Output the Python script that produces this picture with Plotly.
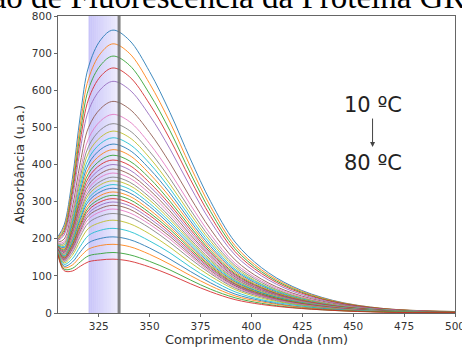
import plotly.graph_objects as go

wavelengths = [305, 308, 312, 316, 320, 326, 332, 340, 350, 360, 370, 380, 392, 405, 420, 440, 465, 500]

spectra = [
    [206, 237, 360, 533, 663, 736, 762, 735, 650, 540, 415, 300, 191, 122, 72, 34, 12, 4],
    [203, 230, 345, 509, 631, 700, 725, 700, 618, 514, 395, 286, 181, 116, 69, 33, 12, 4],
    [200, 223, 332, 487, 603, 668, 692, 668, 590, 491, 377, 273, 173, 111, 66, 31, 11, 3],
    [198, 217, 319, 466, 576, 638, 660, 637, 563, 468, 360, 260, 165, 106, 63, 30, 11, 3],
    [195, 210, 305, 442, 545, 603, 624, 602, 532, 442, 340, 246, 156, 100, 59, 28, 10, 3],
    [191, 199, 283, 406, 500, 551, 570, 550, 486, 404, 311, 225, 143, 91, 54, 26, 9, 3],
    [188, 192, 269, 383, 470, 518, 535, 516, 456, 379, 292, 211, 134, 86, 51, 24, 9, 3],
    [186, 187, 259, 367, 449, 494, 510, 492, 435, 362, 278, 201, 128, 82, 48, 23, 8, 3],
    [184, 183, 251, 353, 432, 474, 490, 473, 418, 347, 267, 193, 123, 78, 47, 22, 8, 2],
    [183, 179, 244, 342, 416, 457, 472, 455, 403, 335, 257, 186, 118, 76, 45, 21, 8, 2],
    [181, 176, 237, 330, 402, 441, 455, 439, 388, 323, 248, 179, 114, 73, 43, 20, 7, 2],
    [180, 173, 231, 320, 389, 426, 440, 425, 375, 312, 240, 173, 110, 70, 42, 20, 7, 2],
    [179, 170, 225, 311, 376, 412, 425, 410, 363, 301, 232, 167, 106, 68, 40, 19, 7, 2],
    [178, 167, 220, 302, 365, 400, 412, 398, 351, 292, 225, 162, 103, 66, 39, 19, 7, 2],
    [177, 165, 215, 294, 355, 388, 400, 386, 341, 284, 218, 158, 100, 64, 38, 18, 6, 2],
    [176, 163, 210, 286, 345, 376, 388, 374, 331, 275, 211, 153, 97, 62, 37, 17, 6, 2],
    [175, 160, 206, 279, 335, 366, 377, 364, 322, 267, 205, 149, 94, 60, 36, 17, 6, 2],
    [174, 158, 201, 272, 326, 355, 366, 353, 312, 259, 199, 144, 92, 59, 35, 16, 6, 2],
    [173, 156, 197, 265, 318, 346, 356, 344, 304, 252, 194, 140, 89, 57, 34, 16, 6, 2],
    [173, 154, 193, 258, 309, 336, 346, 334, 295, 245, 189, 136, 87, 55, 33, 16, 6, 2],
    [172, 152, 189, 252, 301, 327, 336, 324, 287, 238, 183, 132, 84, 54, 32, 15, 5, 2],
    [171, 150, 185, 245, 292, 317, 326, 315, 278, 231, 178, 128, 82, 52, 31, 15, 5, 2],
    [170, 148, 182, 239, 284, 308, 317, 306, 270, 225, 173, 125, 79, 51, 30, 14, 5, 2],
    [170, 147, 178, 233, 277, 300, 308, 297, 263, 218, 168, 121, 77, 49, 29, 14, 5, 2],
    [169, 145, 175, 227, 269, 291, 299, 289, 255, 212, 163, 118, 75, 48, 28, 13, 5, 1],
    [168, 143, 171, 221, 262, 282, 290, 280, 247, 206, 158, 114, 73, 46, 28, 13, 5, 1],
    [167, 141, 167, 215, 253, 273, 280, 270, 239, 199, 153, 110, 70, 45, 27, 13, 4, 1],
    [166, 139, 162, 207, 243, 261, 268, 259, 229, 190, 146, 106, 67, 43, 25, 12, 4, 1],
    [165, 135, 155, 195, 228, 244, 250, 241, 213, 177, 136, 99, 63, 40, 24, 11, 4, 1],
    [163, 131, 146, 180, 209, 223, 228, 220, 194, 162, 124, 90, 57, 36, 22, 10, 4, 1],
    [161, 126, 137, 165, 189, 201, 205, 198, 175, 145, 112, 81, 51, 33, 19, 9, 3, 1],
    [160, 122, 129, 152, 172, 182, 185, 179, 158, 131, 101, 73, 46, 30, 18, 8, 3, 1],
    [158, 118, 120, 138, 154, 160, 163, 157, 139, 116, 89, 64, 41, 26, 15, 7, 3, 1],
    [157, 114, 113, 126, 138, 143, 145, 140, 124, 103, 79, 57, 36, 23, 14, 7, 2, 1],
]

x_ticks = [325, 350, 375, 400, 425, 450, 475, 500]
y_ticks = [0, 100, 200, 300, 400, 500, 600, 700, 800]
band_start, band_end = 320, 335
marker_line = 335

palette = ["#1f77b4", "#ff7f0e", "#2ca02c", "#d62728", "#9467bd",
           "#8c564b", "#e377c2", "#7f7f7f", "#bcbd22", "#17becf"]

fig = go.Figure()
for i, s in enumerate(spectra):
    fig.add_trace(go.Scatter(
        x=wavelengths, y=s, mode="lines", line_shape="spline",
        line=dict(color=palette[i % 10], width=1), opacity=0.85,
        showlegend=False, hoverinfo="skip"))

# gradient band
n = 15
for k in range(n):
    x0 = band_start + (band_end - band_start) * k / n
    x1 = band_start + (band_end - band_start) * (k + 1) / n
    fig.add_shape(type="rect", xref="x", yref="paper", x0=x0, x1=x1, y0=0, y1=1,
                  fillcolor="rgb(125,115,240)", opacity=0.42 - 0.021 * k,
                  line_width=0, layer="below")
fig.add_shape(type="line", xref="x", yref="paper", x0=marker_line, x1=marker_line,
              y0=0, y1=1, line=dict(color="rgba(110,110,110,0.85)", width=3))

axis_font = dict(family="DejaVu Sans", size=10.5, color="#333")
title_font = dict(family="DejaVu Sans", size=13, color="#333")
fig.update_xaxes(range=[305, 500], tickvals=x_ticks, ticks="outside", ticklen=3,
                 tickcolor="#666", showline=True, linecolor="#666", mirror=True,
                 showgrid=False, zeroline=False, tickfont=axis_font,
                 ticklabeloverflow="allow", automargin=False,
                 title=dict(text="Comprimento de Onda (nm)", standoff=1, font=title_font))
fig.update_yaxes(range=[0, 800], tickvals=y_ticks, ticks="outside", ticklen=3,
                 tickcolor="#666", showline=True, linecolor="#666", mirror=True,
                 showgrid=False, zeroline=False, tickfont=axis_font, automargin=False,
                 title=dict(text="Absorbância (u.a.)", standoff=4, font=title_font))

fig.add_annotation(text="Emissão de Fluorescência da Proteína GR", xref="paper", yref="paper",
                   x=-0.375, y=1.064, xanchor="left", yanchor="middle", showarrow=False,
                   font=dict(family="Liberation Serif", size=33, color="black"))
fig.add_annotation(text="10 ºC", x=459.5, y=560, showarrow=False,
                   font=dict(family="DejaVu Sans", size=21, color="#222"))
fig.add_annotation(text="80 ºC", x=459.5, y=404, showarrow=False,
                   font=dict(family="DejaVu Sans", size=21, color="#222"))
fig.add_annotation(text="", x=459.5, y=447, ax=0, ay=-30, showarrow=True,
                   arrowhead=2, arrowsize=1, arrowwidth=1, arrowcolor="#444")

fig.update_layout(width=462, height=349, margin=dict(l=58, r=7, t=16, b=36),
                  plot_bgcolor="white", paper_bgcolor="white")
fig.write_html("out.html")
